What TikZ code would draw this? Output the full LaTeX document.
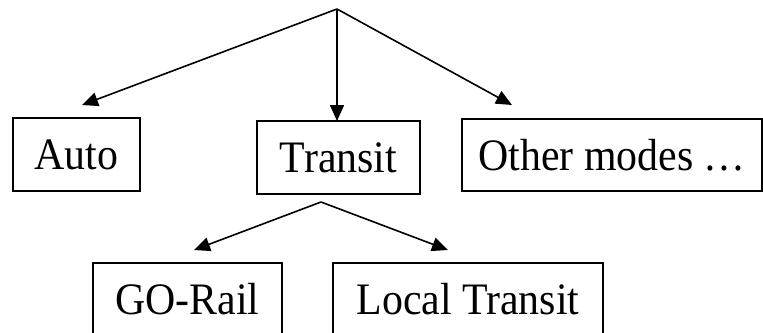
\documentclass[tikz,border=0pt]{standalone}
\usepackage{fontspec}
\setmainfont{Liberation Serif}[FakeStretch=0.93]
\usetikzlibrary{arrows.meta}
\begin{document}
\begin{tikzpicture}
	[x=1pt,y=-1pt,
	every node/.style={inner sep=0pt,outer sep=0,font=\fontsize{45}{50}\selectfont,
		text height=30pt,text depth=0pt},
	mode/.style={shape=rectangle,draw,line width=1.6pt,minimum height=73pt},
	link/.style={line width=1.6pt,-{Triangle[length=16pt,width=14pt]}}]
	\useasboundingbox (0,0) rectangle (763,332);
	\node[mode,minimum width=127pt] (auto)    at (76.5, 154.5) {Auto} ;
	\node[mode,minimum width=163pt] (transit) at (338.5, 157.5) {Transit} ;
	\node[mode,minimum width=300pt,minimum height=72pt] (other) at (612, 155) {Other modes …} ;
	\node[mode,minimum width=189pt] (gorail)  at (187.5, 299.5) {GO-Rail} ;
	\node[mode,minimum width=270pt] (local)   at (468, 299.5) {Local Transit} ;
	% branch points and arrow ends
	\coordinate (top)  at (337, 9) ;
	\coordinate (sub)  at (321, 202) ;
	\coordinate (tauto)  at (82, 105) ;
	\coordinate (ttrans) at (337, 121) ;
	\coordinate (tother) at (512, 105) ;
	\coordinate (tgo)    at (194, 250) ;
	\coordinate (tloc)   at (448, 250) ;
	\draw[link] (top) -- (tauto) ;
	\draw[link] (top) -- (ttrans) ;
	\draw[link] (top) -- (tother) ;
	\draw[link] (sub) -- (tgo) ;
	\draw[link] (sub) -- (tloc) ;
\end{tikzpicture}
\end{document}
